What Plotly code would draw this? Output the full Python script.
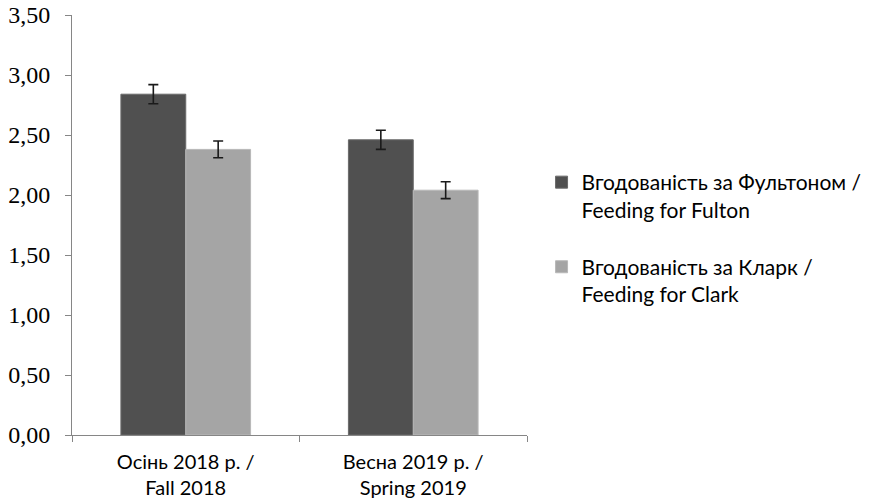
import plotly.graph_objects as go

categories = ["Осінь 2018 р. /<br>Fall 2018", "Весна 2019 р. /<br>Spring 2019"]
fulton_values = [2.84, 2.46]
fulton_errors = [0.08, 0.08]
clark_values = [2.38, 2.04]
clark_errors = [0.07, 0.07]
series_names = ["Вгодованість за Фультоном /<br>Feeding for Fulton",
                "Вгодованість за Кларк /<br>Feeding for Clark"]
y_ticks = [0, 0.5, 1.0, 1.5, 2.0, 2.5, 3.0, 3.5]

axis_color = "#868686"
legend_font = dict(family="Lato, Open Sans, sans-serif", size=21, color="#000000")
xlabel_font = dict(family="Lato, Open Sans, sans-serif", size=20, color="#000000")

fig = go.Figure()
fig.add_trace(go.Bar(
    x=categories, y=fulton_values, name=series_names[0], legendgroup="a",
    marker=dict(color="#505050", line=dict(color="#6a6a6a", width=1)),
    error_y=dict(type="data", array=fulton_errors, color="#1a1a1a", thickness=1.6, width=5),
))
fig.add_trace(go.Bar(
    x=categories, y=clark_values, name=series_names[1], legendgroup="b",
    marker=dict(color="#A5A5A5", line=dict(color="#b8b8b8", width=1)),
    error_y=dict(type="data", array=clark_errors, color="#1a1a1a", thickness=1.6, width=5),
))

fig.update_layout(
    width=884, height=502,
    margin=dict(l=72, r=357, t=15, b=67),
    paper_bgcolor="white", plot_bgcolor="white",
    barmode="group", bargap=0.43, bargroupgap=0,
    separators=", ",
    showlegend=True,
    legend=dict(
        x=1.032, y=0.65, xanchor="left", yanchor="top",
        font=legend_font, valign="top", tracegroupgap=27,
        itemwidth=30, bgcolor="rgba(0,0,0,0)",
    ),
    xaxis=dict(
        automargin=False,
        showline=True, linecolor=axis_color, linewidth=1,
        ticks="outside", tickson="boundaries", ticklen=6, tickcolor=axis_color,
        tickfont=xlabel_font, showgrid=False, ticklabelstandoff=9,
    ),
    yaxis=dict(
        automargin=False, ticklabeloverflow="allow",
        range=[0, 3.5], tickvals=y_ticks, tickformat=".2f",
        showline=True, linecolor=axis_color, linewidth=1,
        ticks="outside", ticklen=6, tickcolor=axis_color,
        tickfont=dict(family="Liberation Serif, Times New Roman, serif", size=24, color="#000000"),
        showgrid=False, zeroline=False, ticklabelstandoff=10,
    ),
)

fig.write_html("out.html", config={"displayModeBar": False},
               post_script="document.body.style.margin='0';")
